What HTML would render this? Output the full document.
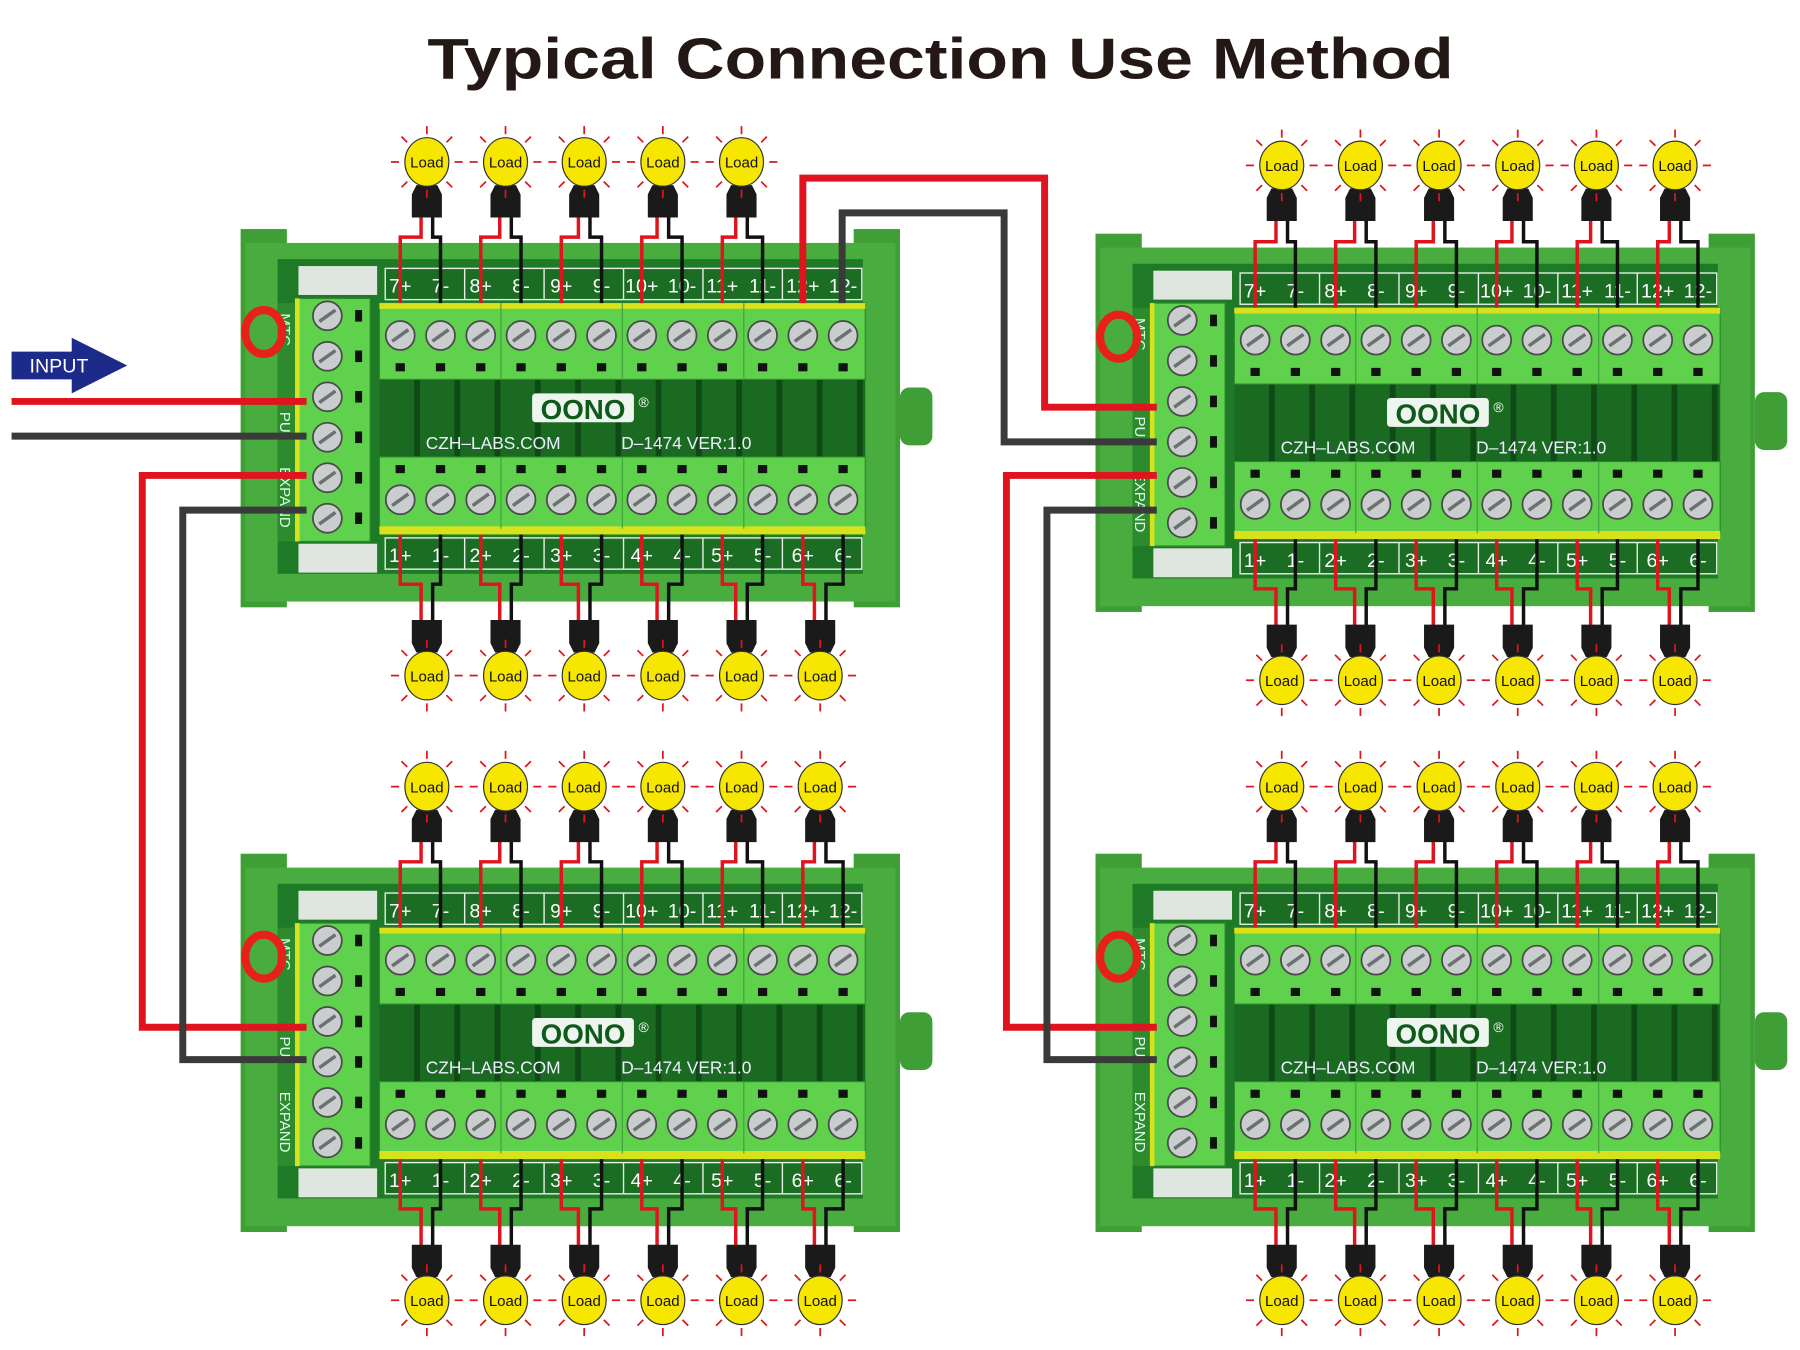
<!DOCTYPE html>
<html><head><meta charset="utf-8"><style>
html,body{margin:0;padding:0;background:#fff;}
svg{display:block;}
text{font-family:"Liberation Sans",sans-serif;}
</style></head><body>
<svg id="s" width="1800" height="1350" viewBox="0 0 1556 1167" preserveAspectRatio="none" xmlns="http://www.w3.org/2000/svg">
<rect width="1556" height="1167" fill="#fff"/>
<text x="813" y="68" text-anchor="middle" font-size="50" font-weight="bold" fill="#231815" textLength="887" lengthAdjust="spacingAndGlyphs">Typical Connection Use Method</text>
<g id="boards"></g>
<g id="wires" fill="none" stroke-width="6" stroke-linejoin="miter"></g>
<g id="arrow">
<polygon points="10,304 62,304 62,292 110,316 62,340 62,328 10,328" fill="#1c2a8a"/>
<text x="51" y="322" text-anchor="middle" font-size="17" fill="#fff">INPUT</text>
</g>
</svg>
<script>
var NS="http://www.w3.org/2000/svg";
function el(p,t,a,txt){var e=document.createElementNS(NS,t);for(var k in a)e.setAttribute(k,a[k]);if(txt!==undefined)e.textContent=txt;p.appendChild(e);return e;}
var B=document.getElementById('boards'),W=document.getElementById('wires');
function screw(g,x,y){el(g,'circle',{cx:x,cy:y,r:12.5,fill:'#c9cdcd',stroke:'#4a4a4a','stroke-width':1.5});el(g,'line',{x1:x-7,y1:y+5,x2:x+7,y2:y-5,stroke:'#6d7070','stroke-width':3});}
function bulb(g,cx,cy){
 for(var i=0;i<8;i++){var a=i*Math.PI/4,c=Math.cos(a),s=Math.sin(a);el(g,'line',{x1:cx+c*24,y1:cy+s*24,x2:cx+c*31,y2:cy+s*31,stroke:'#e0141e','stroke-width':1.5});}
 el(g,'ellipse',{cx:cx,cy:cy,rx:19,ry:21,fill:'#f7e600',stroke:'#333','stroke-width':1});
 el(g,'text',{x:cx,y:cy+5,'text-anchor':'middle','font-size':13,fill:'#111'},'Load');}
function board(dx,dy,nTop,bTopY,bBotY){
 var g=el(B,'g',{transform:'translate('+dx+','+dy+')'});
 var SX=[];for(var i=0;i<12;i++)SX.push(346+34.8*i);
 for(var c=0;c<6;c++){var bx=369+68*c,s1=SX[2*c],s2=SX[2*c+1];
  if(c<nTop){var cy=bTopY;
   el(g,'polyline',{points:(bx-5)+','+(cy+45)+' '+(bx-5)+','+(205)+' '+s1+',205 '+s1+',262',fill:'none',stroke:'#e0141e','stroke-width':3});
   el(g,'polyline',{points:(bx+5)+','+(cy+45)+' '+(bx+5)+','+(205)+' '+s2+',205 '+s2+',262',fill:'none',stroke:'#111','stroke-width':3});
   el(g,'polygon',{points:(bx-9)+','+(cy+20)+' '+(bx+9)+','+(cy+20)+' '+(bx+13)+','+(cy+28)+' '+(bx+13)+','+(cy+48)+' '+(bx-13)+','+(cy+48)+' '+(bx-13)+','+(cy+28),fill:'#1a1a1a'});
   bulb(g,bx,cy);}
  var cy2=bBotY;
  el(g,'polyline',{points:s1+',462 '+s1+',505 '+(bx-5)+',505 '+(bx-5)+','+(cy2-45),fill:'none',stroke:'#e0141e','stroke-width':3});
  el(g,'polyline',{points:s2+',462 '+s2+',505 '+(bx+5)+',505 '+(bx+5)+','+(cy2-45),fill:'none',stroke:'#111','stroke-width':3});
  el(g,'polygon',{points:(bx-9)+','+(cy2-20)+' '+(bx+9)+','+(cy2-20)+' '+(bx+13)+','+(cy2-28)+' '+(bx+13)+','+(cy2-48)+' '+(bx-13)+','+(cy2-48)+' '+(bx-13)+','+(cy2-28),fill:'#1a1a1a'});
  bulb(g,bx,cy2);}
 var b=el(g,'g',{});g.insertBefore(b,g.firstChild);
 el(b,'rect',{x:208,y:198,width:40,height:327,fill:'#3f9f36'});
 el(b,'rect',{x:738,y:198,width:40,height:327,fill:'#3f9f36'});
 el(b,'rect',{x:778,y:335,width:28,height:50,rx:8,fill:'#3f9f36'});
 el(b,'rect',{x:212,y:210,width:562,height:310,fill:'#49ac3e'});
 el(b,'rect',{x:240,y:224,width:506,height:272,fill:'#1f7a27'});
 el(b,'rect',{x:258,y:230,width:68,height:25,fill:'#dfe6df'});
 el(b,'rect',{x:258,y:470,width:68,height:25,fill:'#dfe6df'});
 var topL=['7+','7-','8+','8-','9+','9-','10+','10-','11+','11-','12+','12-'],botL=['1+','1-','2+','2-','3+','3-','4+','4-','5+','5-','6+','6-'];
 [[232,topL],[465,botL]].forEach(function(q){var y=q[0];
  el(b,'rect',{x:333,y:y,width:412,height:27,fill:'#1a6d22',stroke:'#e8f0e8','stroke-width':1.2});
  for(var c=1;c<6;c++){var x=333+412/6*c;el(b,'line',{x1:x,y1:y,x2:x,y2:y+27,stroke:'#e8f0e8','stroke-width':1.2});}
  for(var i=0;i<12;i++)el(b,'text',{x:SX[i],y:y+21,'text-anchor':'middle','font-size':17,fill:'#fff'},q[1][i]);});
 el(b,'rect',{x:328,y:328,width:420,height:67,fill:'#1b6a22'});
 for(var i=0;i<12;i++)el(b,'rect',{x:SX[i]+12,y:328,width:5,height:67,fill:'#0f4a16'});
 el(b,'rect',{x:328,y:262,width:420,height:66,fill:'#5fd14c',stroke:'#2c8a2c','stroke-width':1});
 el(b,'rect',{x:328,y:262,width:420,height:5,fill:'#d8e21c'});
 el(b,'rect',{x:328,y:395,width:420,height:62,fill:'#5fd14c',stroke:'#2c8a2c','stroke-width':1});
 el(b,'rect',{x:328,y:455,width:420,height:7,fill:'#d8e21c'});
 for(var i=0;i<12;i++){screw(b,SX[i],290);screw(b,SX[i],432);
  el(b,'rect',{x:SX[i]-4,y:314,width:8,height:7,fill:'#111'});el(b,'rect',{x:SX[i]-4,y:402,width:8,height:7,fill:'#111'});}
 for(var c=1;c<4;c++){var x=328+105*c;el(b,'line',{x1:x,y1:262,x2:x,y2:328,stroke:'#3ea33a'});el(b,'line',{x1:x,y1:395,x2:x,y2:457,stroke:'#3ea33a'});}
 el(b,'rect',{x:240,y:262,width:16,height:206,fill:'#2d8a2d'});
 el(b,'rect',{x:255,y:258,width:65,height:210,fill:'#5fd14c',stroke:'#2c8a2c'});
 el(b,'rect',{x:255,y:258,width:4,height:210,fill:'#d8e21c'});
 for(var i=0;i<6;i++){screw(b,283,273+35*i);el(b,'rect',{x:307,y:268+35*i,width:6,height:10,fill:'#111'});}
 [['MTC',285],['PU',365],['EXPAND',430]].forEach(function(q){el(b,'text',{x:0,y:0,transform:'translate(242,'+q[1]+') rotate(90)','text-anchor':'middle','font-size':13,fill:'#dfe'},q[0]);});
 el(b,'ellipse',{cx:228,cy:287,rx:16,ry:19,fill:'none',stroke:'#e8201a','stroke-width':7});
 el(b,'rect',{x:460,y:340,width:88,height:25,rx:3,fill:'#eef5ee'});
 el(b,'text',{x:504,y:362,'text-anchor':'middle','font-size':24,'font-weight':'bold',fill:'#0e5a1a'},'OONO');
 el(b,'text',{x:552,y:352,'font-size':12,fill:'#fff'},'®');
 el(b,'text',{x:368,y:388,'font-size':15,fill:'#eef'},'CZH–LABS.COM');
 el(b,'text',{x:537,y:388,'font-size':15,fill:'#eef'},'D–1474  VER:1.0');
}
board(0,0,5,140,584);
board(739,4,6,139,584);
board(0,540,6,140,584);
board(739,540,6,140,584);
function w(pts,col){el(W,'polyline',{points:pts,stroke:col});}
var R='#e0141e',K='#3a3a3a';
w('10,347 265,347',R);w('10,377 265,377',K);
w('265,411 123,411 123,888 265,888',R);w('265,441 158,441 158,916 265,916',K);
w('694,262 694,154 903,154 903,352 1000,352',R);w('728,262 728,184 868,184 868,382 1000,382',K);
w('1000,411 870,411 870,888 1000,888',R);w('1000,441 905,441 905,916 1000,916',K);
</script>
</body></html>
